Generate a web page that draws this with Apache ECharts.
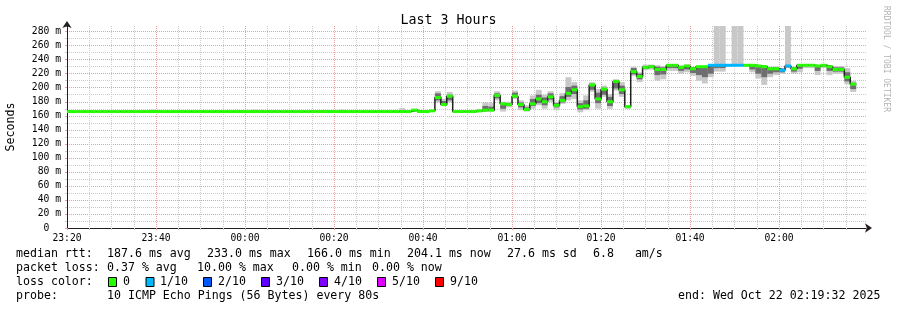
<!DOCTYPE html>
<html><head><meta charset="utf-8">
<script src="https://cdn.jsdelivr.net/npm/echarts@6/dist/echarts.min.js"></script>
<style>html,body{margin:0;padding:0;background:#fff}#c{width:897px;height:310px}</style>
</head><body><div id="c"></div>
<script>
const _ = null;
const STEP_MIN = 80 / 60;            // one RRD step = 80 s
const X_MAX = 179 + 32 / 60;         // 23:20 -> 02:19:32
const Y_MAX = 288;
const xTickLabels = ['23:20','23:40','00:00','00:20','00:40','01:00','01:20','01:40','02:00'];
const yTickLabels = ['0  ','20 m','40 m','60 m','80 m','100 m','120 m','140 m','160 m','180 m','200 m','220 m','240 m','260 m','280 m'];

// median rtt per 80 s step (ms), starting 23:20
const median = [
 166,166,166,166,166,166,166,166,166,166,
 166,166,166,166,166,166,166,166,166,166,
 166,166,166,166,166,166,166,166,166,166,
 166,166,166,166,166,166,166,166,166,166,
 166,166,166,166,166,166,166,166,166,166,
 166,166,166,166,166,166,166,166,168,166,
 166,167,186,176,188,166,166,166,166,167,
 168,168,189,177,176,188,176,169,177,184,
 180,187,175,182,192,197,173,174,204,184,
 198,180,209,197,173,223,216,229,230,226,
 226,232,232,229,231,227,230,230,232,232,
 232,232,232,232,232,232,231,230,227,227,
 225,231,227,232,232,232,231,232,230,226,
 226,215,205
];
// lost pings out of 10 per step
const lossCount = [
 0,0,0,0,0,0,0,0,0,0, 0,0,0,0,0,0,0,0,0,0,
 0,0,0,0,0,0,0,0,0,0, 0,0,0,0,0,0,0,0,0,0,
 0,0,0,0,0,0,0,0,0,0, 0,0,0,0,0,0,0,0,0,0,
 0,0,0,0,0,0,0,0,0,0, 0,0,0,0,0,0,0,0,0,0,
 0,0,0,0,0,0,0,0,0,0, 0,0,0,0,0,0,0,0,0,0,
 0,0,0,0,0,0,0,0,1,1, 1,1,1,1,0,0,0,0,0,0,
 1,1,0,0,0,0,0,0,0,0, 0,0,0
];
// smoke: outer range (all pings)
const smokeLo = [
 _,_,_,_,_,_,_,_,_,_,
 _,_,_,_,166,_,_,_,_,_,
 _,_,_,_,_,_,_,_,166,_,
 _,166,166,_,166,_,_,_,_,_,
 _,_,_,166,_,_,166,_,_,_,
 _,_,_,_,_,_,166,_,166,_,
 _,_,179,174,179,_,_,_,166,166,
 166,166,182,166,172,184,168,166,170,175,
 170,180,168,177,182,184,165,168,194,170,
 187,170,196,187,170,217,208,225,226,210,
 212,224,224,220,222,217,210,206,215,223,
 223,230,232,232,_,222,213,204,215,218,
 220,228,220,222,228,228,218,228,218,220,
 220,205,194
];
const smokeHi = [
 _,_,_,_,_,_,_,_,_,_,
 _,_,_,_,169,_,_,_,_,_,
 _,_,_,_,_,_,_,_,168.5,_,
 _,169,168.5,_,168,_,_,_,_,_,
 _,_,_,168,_,_,169,_,_,_,
 _,_,_,_,_,_,171,_,170,_,
 _,_,195,184,194,_,_,_,168,169,
 179,178,195,180,180,196,182,175,189,197,
 190,195,180,192,215,208,182,189,208,198,
 203,191,212,208,175,230,222,233,233,232,
 231,233,233,232,233,230,230,230,232,300,
 300,233,300,300,_,232,230,230,230,230,
 228,300,230,232,232,232,232,233,232,231,
 231,228,210
];
// smoke: inner (denser) range
const coreLo = [
 _,_,_,_,_,_,_,_,_,_, _,_,_,_,_,_,_,_,_,_,
 _,_,_,_,_,_,_,_,_,_, _,_,_,_,_,_,_,_,_,_,
 _,_,_,_,_,_,_,_,_,_, _,_,_,_,_,_,_,_,_,_,
 _,_,182,175,182,_,_,_,_,_,
 167,167,185,170,174,186,172,167,174,178,
 175,183,172,179,187,191,169,170,197,178,
 190,174,199,191,171,219,212,227,228,218,
 219,228,228,224,226,221,218,215,220,228,
 228,_,_,_,_,226,220,215,220,222,
 222,229,223,227,_,_,224,_,224,223,
 223,209,198
];
const coreHi = [
 _,_,_,_,_,_,_,_,_,_, _,_,_,_,_,_,_,_,_,_,
 _,_,_,_,_,_,_,_,_,_, _,_,_,_,_,_,_,_,_,_,
 _,_,_,_,_,_,_,_,_,_, _,_,_,_,_,_,_,_,_,_,
 _,_,192,181,190,_,_,_,_,_,
 174,173,192,178,178,193,179,172,184,190,
 186,192,178,188,201,203,178,182,205,193,
 200,187,209,203,174,228,220,231,232,230,
 229,232,232,231,232,229,229,229,232,232,
 232,_,_,_,_,232,230,229,229,229,
 227,232,229,232,_,_,231,_,231,229,
 229,222,207
];
const lossLegend = ['0','1/10','2/10','3/10','4/10','5/10','9/10'];
const lossColors = ['#26ff00','#00b8ff','#0059ff','#5e00ff','#7e00ff','#dd00ff','#ff0000'];
const statsRtt = ['187.6 ms avg','233.0 ms max','166.0 ms min','204.1 ms now','27.6 ms sd','6.8   am/s'];
const statsLoss = ['0.37 % avg','10.00 % max','0.00 % min','0.00 % now'];

function lossColor(n) {
  if (n <= 0) return lossColors[0];
  if (n <= 4) return lossColors[n];
  if (n <= 8) return lossColors[5];
  return lossColors[6];
}

const FONT = '"DejaVu Sans Mono", monospace';
const MAJOR = '#eba0a0', MINOR = '#cccccc';

const bandData = (lo, hi) => {
  const out = [];
  for (let k = 0; k < median.length; k++) {
    if (lo[k] == null || hi[k] == null) continue;
    out.push([k * STEP_MIN, (k + 1) * STEP_MIN, lo[k], hi[k]]);
  }
  return out;
};
const medianSegs = median.map((v, k) => [k * STEP_MIN, (k + 1) * STEP_MIN, v, lossCount[k]]);
const medianLine = median.map((v, k) => [k * STEP_MIN, v]);
medianLine.push([median.length * STEP_MIN, median[median.length - 1]]);

function bandRender(color) {
  return function (params, api) {
    const p0 = api.coord([api.value(0), api.value(3)]);
    const p1 = api.coord([api.value(1), api.value(2)]);
    const cs = params.coordSys;
    const shape = echarts.graphic.clipRectByRect(
      { x: p0[0], y: p0[1], width: p1[0] - p0[0], height: Math.max(p1[1] - p0[1], 0.8) },
      { x: cs.x, y: cs.y, width: cs.width, height: cs.height });
    return shape && { type: 'rect', shape: shape, style: { fill: color } };
  };
}
function segRender(params, api) {
  const p0 = api.coord([api.value(0), api.value(2)]);
  const p1 = api.coord([api.value(1), api.value(2)]);
  const cs = params.coordSys;
  const shape = echarts.graphic.clipRectByRect(
    { x: p0[0], y: p0[1] - 1.5, width: p1[0] - p0[0], height: 3 },
    { x: cs.x, y: cs.y, width: cs.width, height: cs.height });
  return shape && { type: 'rect', shape: shape, style: { fill: lossColor(api.value(3)) } };
}

const graphics = [];
function txt(x, y, s, extra) {
  graphics.push(Object.assign({ type: 'text', x: x, y: y, silent: true,
    style: { text: s, font: '11.6px ' + FONT, fill: '#000', verticalAlign: 'middle', align: 'left' } }, extra || {}));
}
txt(16, 254, 'median rtt:');
[107, 207, 307, 407, 507, 593].forEach((x, i) => txt(x, 254, statsRtt[i]));
txt(16, 268, 'packet loss:');
[107, 197, 292, 372].forEach((x, i) => txt(x, 268, statsLoss[i]));
txt(16, 282, 'loss color:');
const boxX = [108.5, 146, 203.5, 261.5, 319.5, 377.5, 435.5];
const boxLabelX = [123, 160, 218, 276, 334, 392, 450];
lossLegend.forEach((s, i) => {
  graphics.push({ type: 'rect', silent: true, shape: { x: boxX[i], y: 277.5, width: 8, height: 9 },
    style: { fill: lossColors[i], stroke: '#000', lineWidth: 1 } });
  txt(boxLabelX[i], 282, s);
});
txt(16, 296, 'probe:');
txt(107, 296, '10 ICMP Echo Pings (56 Bytes) every 80s');
txt(678, 296, 'end: Wed Oct 22 02:19:32 2025');
graphics.push({ type: 'text', x: 886, y: 59, rotation: -Math.PI / 2, silent: true,
  style: { text: 'RRDTOOL / TOBI OETIKER', font: '8px ' + FONT, fill: '#b4b4b4', align: 'center', verticalAlign: 'middle' } });

const chart = echarts.init(document.getElementById('c'), null, { renderer: 'canvas' });
chart.setOption({
  animation: false,
  backgroundColor: '#ffffff',
  textStyle: { fontFamily: FONT },
  title: { text: 'Last 3 Hours', left: 'center', top: 9,
    textStyle: { fontFamily: FONT, fontSize: 13.3, fontWeight: 'normal', color: '#000' } },
  grid: { left: 67, top: 26, width: 799, height: 202, containLabel: false, outerBoundsMode: 'none' },
  xAxis: {
    type: 'value', min: 0, max: X_MAX, interval: 20,
    axisLine: { show: true, onZero: false, lineStyle: { color: '#202020', width: 1 },
      symbol: ['none', 'arrow'], symbolSize: [7, 7], symbolOffset: [0, 6] },
    axisTick: { show: true, length: 2, lineStyle: { color: MAJOR } },
    minorTick: { show: true, splitNumber: 4, length: 2, lineStyle: { color: MINOR } },
    axisLabel: { formatter: v => (v % 20 === 0 ? xTickLabels[v / 20] : ''), margin: 5,
      fontFamily: FONT, fontSize: 9.7, color: '#000', showMaxLabel: false, hideOverlap: false },
    splitLine: { show: true, showMaxLine: false, lineStyle: { color: MAJOR, type: [1, 1], width: 1 } },
    minorSplitLine: { show: true, lineStyle: { color: MINOR, type: [1, 1], width: 1 } }
  },
  yAxis: {
    type: 'value', min: 0, max: Y_MAX, interval: 20,
    name: 'Seconds', nameLocation: 'middle', nameGap: 50, nameRotate: 90,
    nameTextStyle: { fontFamily: FONT, fontSize: 11.6, color: '#000' },
    axisLine: { show: true, onZero: false, lineStyle: { color: '#202020', width: 1 },
      symbol: ['none', 'arrow'], symbolSize: [7, 7], symbolOffset: [0, 5] },
    axisTick: { show: true, length: 2, lineStyle: { color: MAJOR } },
    minorTick: { show: true, splitNumber: 2, length: 2, lineStyle: { color: MINOR } },
    axisLabel: { formatter: v => (v % 20 === 0 ? yTickLabels[v / 20] : ''), margin: 6,
      fontFamily: FONT, fontSize: 9.7, color: '#000', showMaxLabel: false },
    splitLine: { show: true, showMaxLine: false, lineStyle: { color: MAJOR, type: [1, 1], width: 1 } },
    minorSplitLine: { show: true, lineStyle: { color: MINOR, type: [1, 1], width: 1 } }
  },
  graphic: graphics,
  series: [
    { type: 'custom', renderItem: bandRender('#c8c8c8'), data: bandData(smokeLo, smokeHi),
      encode: { x: [0, 1], y: [2, 3] }, z: 1, silent: true },
    { type: 'custom', renderItem: bandRender('#6e6e6e'), data: bandData(coreLo, coreHi),
      encode: { x: [0, 1], y: [2, 3] }, z: 2, silent: true },
    { type: 'line', data: medianLine, step: 'end', showSymbol: false, clip: true,
      lineStyle: { color: '#202020', width: 1.5 }, z: 3, silent: true },
    { type: 'custom', renderItem: segRender, data: medianSegs,
      encode: { x: [0, 1], y: 2 }, z: 4, silent: true }
  ]
});
</script></body></html>
